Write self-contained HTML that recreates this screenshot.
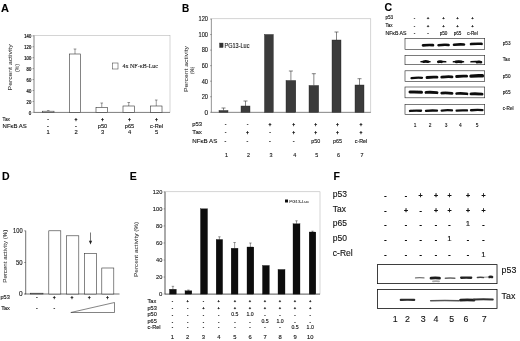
<!DOCTYPE html>
<html><head><meta charset="utf-8"><title>Figure</title>
<style>
html,body{margin:0;padding:0;background:#fff;}
body{width:520px;height:341px;overflow:hidden;}
svg{display:block;font-family:"Liberation Sans", sans-serif;}
</style></head>
<body>
<svg width="520" height="341" viewBox="0 0 520 341">
<defs><filter id="bl" x="-2%" y="-2%" width="104%" height="104%"><feGaussianBlur stdDeviation="0.35"/></filter><filter id="bb" filterUnits="userSpaceOnUse" x="370" y="30" width="150" height="300"><feGaussianBlur stdDeviation="0.45"/></filter></defs>
<rect width="520" height="341" fill="#fff"/>
<g filter="url(#bl)">
<text x="1" y="12" font-size="11" font-weight="bold" fill="#000" stroke="#000" stroke-width="0.12">A</text>
<rect x="34" y="35.7" width="136" height="76.7" fill="none" stroke="#aaa" stroke-width="0.5"/>
<line x1="34" y1="35.7" x2="34" y2="112.4" stroke="#555" stroke-width="0.55"/>
<line x1="34" y1="112.4" x2="170" y2="112.4" stroke="#444" stroke-width="0.6"/>
<line x1="32.5" y1="112.4" x2="34" y2="112.4" stroke="#333" stroke-width="0.4"/>
<text x="31.2" y="114.80000000000001" font-size="4.5" text-anchor="end" fill="#111" stroke="#111" stroke-width="0.2">0</text>
<line x1="32.5" y1="101.45714285714286" x2="34" y2="101.45714285714286" stroke="#333" stroke-width="0.4"/>
<text x="31.2" y="103.85714285714286" font-size="4.5" text-anchor="end" textLength="4.6" lengthAdjust="spacingAndGlyphs" fill="#111" stroke="#111" stroke-width="0.2">20</text>
<line x1="32.5" y1="90.51428571428572" x2="34" y2="90.51428571428572" stroke="#333" stroke-width="0.4"/>
<text x="31.2" y="92.91428571428573" font-size="4.5" text-anchor="end" textLength="4.6" lengthAdjust="spacingAndGlyphs" fill="#111" stroke="#111" stroke-width="0.2">40</text>
<line x1="32.5" y1="79.57142857142858" x2="34" y2="79.57142857142858" stroke="#333" stroke-width="0.4"/>
<text x="31.2" y="81.97142857142859" font-size="4.5" text-anchor="end" textLength="4.6" lengthAdjust="spacingAndGlyphs" fill="#111" stroke="#111" stroke-width="0.2">60</text>
<line x1="32.5" y1="68.62857142857143" x2="34" y2="68.62857142857143" stroke="#333" stroke-width="0.4"/>
<text x="31.2" y="71.02857142857144" font-size="4.5" text-anchor="end" textLength="4.6" lengthAdjust="spacingAndGlyphs" fill="#111" stroke="#111" stroke-width="0.2">80</text>
<line x1="32.5" y1="57.6857142857143" x2="34" y2="57.6857142857143" stroke="#333" stroke-width="0.4"/>
<text x="31.2" y="60.085714285714296" font-size="4.5" text-anchor="end" textLength="6.9" lengthAdjust="spacingAndGlyphs" fill="#111" stroke="#111" stroke-width="0.2">100</text>
<line x1="32.5" y1="46.74285714285715" x2="34" y2="46.74285714285715" stroke="#333" stroke-width="0.4"/>
<text x="31.2" y="49.142857142857146" font-size="4.5" text-anchor="end" textLength="6.9" lengthAdjust="spacingAndGlyphs" fill="#111" stroke="#111" stroke-width="0.2">120</text>
<line x1="32.5" y1="35.80000000000001" x2="34" y2="35.80000000000001" stroke="#333" stroke-width="0.4"/>
<text x="31.2" y="38.20000000000001" font-size="4.5" text-anchor="end" textLength="6.9" lengthAdjust="spacingAndGlyphs" fill="#111" stroke="#111" stroke-width="0.2">140</text>
<text transform="translate(12.1,67.4) rotate(-90)" font-size="6.2" text-anchor="middle" textLength="46" lengthAdjust="spacingAndGlyphs" fill="#333" stroke="#333" stroke-width="0.05">Percent activity</text>
<text transform="translate(19,68) rotate(-90)" font-size="5" text-anchor="middle" fill="#333" stroke="#333" stroke-width="0.05">(%)</text>
<line x1="48.25" y1="110.6" x2="48.25" y2="111.2" stroke="#333" stroke-width="0.5"/>
<line x1="46.95" y1="110.6" x2="49.55" y2="110.6" stroke="#333" stroke-width="0.5"/>
<rect x="42.5" y="111.2" width="11.5" height="1.2000000000000028" fill="#fff" stroke="#333" stroke-width="0.6"/>
<line x1="75.0" y1="49" x2="75.0" y2="54" stroke="#333" stroke-width="0.5"/>
<line x1="73.7" y1="49" x2="76.3" y2="49" stroke="#333" stroke-width="0.5"/>
<rect x="69.5" y="54" width="11.0" height="58.400000000000006" fill="#fff" stroke="#333" stroke-width="0.6"/>
<line x1="101.75" y1="103" x2="101.75" y2="107.5" stroke="#333" stroke-width="0.5"/>
<line x1="100.45" y1="103" x2="103.05" y2="103" stroke="#333" stroke-width="0.5"/>
<rect x="96" y="107.5" width="11.5" height="4.900000000000006" fill="#fff" stroke="#333" stroke-width="0.6"/>
<line x1="128.75" y1="102.5" x2="128.75" y2="106" stroke="#333" stroke-width="0.5"/>
<line x1="127.45" y1="102.5" x2="130.05" y2="102.5" stroke="#333" stroke-width="0.5"/>
<rect x="123" y="106" width="11.5" height="6.400000000000006" fill="#fff" stroke="#333" stroke-width="0.6"/>
<line x1="156.25" y1="100" x2="156.25" y2="106" stroke="#333" stroke-width="0.5"/>
<line x1="154.95" y1="100" x2="157.55" y2="100" stroke="#333" stroke-width="0.5"/>
<rect x="150.5" y="106" width="11.5" height="6.400000000000006" fill="#fff" stroke="#333" stroke-width="0.6"/>
<rect x="112.5" y="63" width="5.5" height="6" fill="#fff" stroke="#333" stroke-width="0.5"/>
<text x="122.5" y="68.3" font-size="6" textLength="35.5" lengthAdjust="spacingAndGlyphs" font-family='"Liberation Serif", serif' fill="#222" stroke="#222" stroke-width="0.12">4x NF-κB-Luc</text>
<text x="2.6" y="121.2" font-size="5.8" textLength="7.4" lengthAdjust="spacingAndGlyphs" fill="#111" stroke="#111" stroke-width="0.12">Tax</text>
<text x="2.6" y="127.8" font-size="5.8" textLength="24.2" lengthAdjust="spacingAndGlyphs" fill="#111" stroke="#111" stroke-width="0.12">NFκB AS</text>
<text x="48" y="120.9" font-size="5" text-anchor="middle" fill="#111" stroke="#111" stroke-width="0.3">-</text>
<text x="76" y="120.9" font-size="5" text-anchor="middle" fill="#111" stroke="#111" stroke-width="0.3">+</text>
<text x="102.5" y="120.9" font-size="5" text-anchor="middle" fill="#111" stroke="#111" stroke-width="0.3">+</text>
<text x="129.5" y="120.9" font-size="5" text-anchor="middle" fill="#111" stroke="#111" stroke-width="0.3">+</text>
<text x="156.5" y="120.9" font-size="5" text-anchor="middle" fill="#111" stroke="#111" stroke-width="0.3">+</text>
<text x="48" y="127.6" font-size="5.6" text-anchor="middle" fill="#111" stroke="#111" stroke-width="0.3">-</text>
<text x="76" y="127.6" font-size="5.6" text-anchor="middle" fill="#111" stroke="#111" stroke-width="0.3">-</text>
<text x="102.5" y="127.6" font-size="5.6" text-anchor="middle" fill="#111" stroke="#111" stroke-width="0.12">p50</text>
<text x="129.5" y="127.6" font-size="5.6" text-anchor="middle" fill="#111" stroke="#111" stroke-width="0.12">p65</text>
<text x="156.5" y="127.6" font-size="5.6" text-anchor="middle" fill="#111" stroke="#111" stroke-width="0.12">c-Rel</text>
<text x="48" y="134.4" font-size="5.8" text-anchor="middle" fill="#111" stroke="#111" stroke-width="0.12">1</text>
<text x="76" y="134.4" font-size="5.8" text-anchor="middle" fill="#111" stroke="#111" stroke-width="0.12">2</text>
<text x="102.5" y="134.4" font-size="5.8" text-anchor="middle" fill="#111" stroke="#111" stroke-width="0.12">3</text>
<text x="129.5" y="134.4" font-size="5.8" text-anchor="middle" fill="#111" stroke="#111" stroke-width="0.12">4</text>
<text x="156.5" y="134.4" font-size="5.8" text-anchor="middle" fill="#111" stroke="#111" stroke-width="0.12">5</text>
<text x="182" y="11.5" font-size="10" font-weight="bold" fill="#000" stroke="#000" stroke-width="0.12">B</text>
<rect x="211.3" y="18.8" width="159.5" height="93.5" fill="none" stroke="#aaa" stroke-width="0.5"/>
<line x1="211.3" y1="19" x2="211.3" y2="112.3" stroke="#666" stroke-width="0.55"/>
<line x1="211.3" y1="112.3" x2="370.8" y2="112.3" stroke="#555" stroke-width="0.6"/>
<line x1="210" y1="112.3" x2="211.5" y2="112.3" stroke="#333" stroke-width="0.4"/>
<text x="208" y="114.6" font-size="6.4" text-anchor="end" fill="#111" stroke="#111" stroke-width="0.12">0</text>
<line x1="210" y1="96.75" x2="211.5" y2="96.75" stroke="#333" stroke-width="0.4"/>
<text x="208" y="99.05" font-size="6.4" text-anchor="end" textLength="6.3" lengthAdjust="spacingAndGlyphs" fill="#111" stroke="#111" stroke-width="0.12">20</text>
<line x1="210" y1="81.19999999999999" x2="211.5" y2="81.19999999999999" stroke="#333" stroke-width="0.4"/>
<text x="208" y="83.49999999999999" font-size="6.4" text-anchor="end" textLength="6.3" lengthAdjust="spacingAndGlyphs" fill="#111" stroke="#111" stroke-width="0.12">40</text>
<line x1="210" y1="65.65" x2="211.5" y2="65.65" stroke="#333" stroke-width="0.4"/>
<text x="208" y="67.95" font-size="6.4" text-anchor="end" textLength="6.3" lengthAdjust="spacingAndGlyphs" fill="#111" stroke="#111" stroke-width="0.12">60</text>
<line x1="210" y1="50.099999999999994" x2="211.5" y2="50.099999999999994" stroke="#333" stroke-width="0.4"/>
<text x="208" y="52.39999999999999" font-size="6.4" text-anchor="end" textLength="6.3" lengthAdjust="spacingAndGlyphs" fill="#111" stroke="#111" stroke-width="0.12">80</text>
<line x1="210" y1="34.55" x2="211.5" y2="34.55" stroke="#333" stroke-width="0.4"/>
<text x="208" y="36.849999999999994" font-size="6.4" text-anchor="end" textLength="9.4" lengthAdjust="spacingAndGlyphs" fill="#111" stroke="#111" stroke-width="0.12">100</text>
<line x1="210" y1="19.0" x2="211.5" y2="19.0" stroke="#333" stroke-width="0.4"/>
<text x="208" y="21.3" font-size="6.4" text-anchor="end" textLength="9.4" lengthAdjust="spacingAndGlyphs" fill="#111" stroke="#111" stroke-width="0.12">120</text>
<text transform="translate(188.3,69) rotate(-90)" font-size="5.6" text-anchor="middle" textLength="46" lengthAdjust="spacingAndGlyphs" fill="#333" stroke="#333" stroke-width="0.05">Percent activity</text>
<text transform="translate(194,70.3) rotate(-90)" font-size="4.8" text-anchor="middle" fill="#333" stroke="#333" stroke-width="0.05">(%)</text>
<line x1="223.5" y1="108" x2="223.5" y2="110.5" stroke="#333" stroke-width="0.6"/>
<line x1="221.5" y1="108" x2="225.5" y2="108" stroke="#333" stroke-width="0.6"/>
<rect x="219" y="110.5" width="9" height="1.7999999999999972" fill="#3a3a3a" stroke="#222" stroke-width="0.4"/>
<line x1="245.5" y1="101" x2="245.5" y2="106" stroke="#333" stroke-width="0.6"/>
<line x1="243.5" y1="101" x2="247.5" y2="101" stroke="#333" stroke-width="0.6"/>
<rect x="241" y="106" width="9" height="6.299999999999997" fill="#3a3a3a" stroke="#222" stroke-width="0.4"/>
<rect x="264.5" y="34.5" width="8.800000000000011" height="77.8" fill="#3a3a3a" stroke="#222" stroke-width="0.4"/>
<line x1="290.9" y1="71" x2="290.9" y2="80.5" stroke="#333" stroke-width="0.6"/>
<line x1="288.9" y1="71" x2="292.9" y2="71" stroke="#333" stroke-width="0.6"/>
<rect x="286" y="80.5" width="9.800000000000011" height="31.799999999999997" fill="#3a3a3a" stroke="#222" stroke-width="0.4"/>
<line x1="313.85" y1="73.7" x2="313.85" y2="85.5" stroke="#333" stroke-width="0.6"/>
<line x1="311.85" y1="73.7" x2="315.85" y2="73.7" stroke="#333" stroke-width="0.6"/>
<rect x="309" y="85.5" width="9.699999999999989" height="26.799999999999997" fill="#3a3a3a" stroke="#222" stroke-width="0.4"/>
<line x1="336.5" y1="32" x2="336.5" y2="40" stroke="#333" stroke-width="0.6"/>
<line x1="334.5" y1="32" x2="338.5" y2="32" stroke="#333" stroke-width="0.6"/>
<rect x="332" y="40" width="9" height="72.3" fill="#3a3a3a" stroke="#222" stroke-width="0.4"/>
<line x1="359.5" y1="78.7" x2="359.5" y2="85" stroke="#333" stroke-width="0.6"/>
<line x1="357.5" y1="78.7" x2="361.5" y2="78.7" stroke="#333" stroke-width="0.6"/>
<rect x="355" y="85" width="9" height="27.299999999999997" fill="#3a3a3a" stroke="#222" stroke-width="0.4"/>
<rect x="219.5" y="43" width="3.6" height="4.6" fill="#333" stroke="#222" stroke-width="0.3"/>
<text x="224.6" y="47.9" font-size="6.8" textLength="24.8" lengthAdjust="spacingAndGlyphs" fill="#111" stroke="#111" stroke-width="0.12">PG13-Luc</text>
<text x="192.3" y="125.8" font-size="5.7" textLength="9.8" lengthAdjust="spacingAndGlyphs" fill="#111" stroke="#111" stroke-width="0.12">p53</text>
<text x="192.3" y="134.3" font-size="5.7" textLength="9.6" lengthAdjust="spacingAndGlyphs" fill="#111" stroke="#111" stroke-width="0.12">Tax</text>
<text x="192.3" y="142.8" font-size="5.7" textLength="25" lengthAdjust="spacingAndGlyphs" fill="#111" stroke="#111" stroke-width="0.12">NFκB AS</text>
<text x="225.5" y="125.5" font-size="5" text-anchor="middle" fill="#111" stroke="#111" stroke-width="0.3">-</text>
<text x="247.5" y="125.5" font-size="5" text-anchor="middle" fill="#111" stroke="#111" stroke-width="0.3">-</text>
<text x="270" y="125.5" font-size="5" text-anchor="middle" fill="#111" stroke="#111" stroke-width="0.3">+</text>
<text x="293.7" y="125.5" font-size="5" text-anchor="middle" fill="#111" stroke="#111" stroke-width="0.3">+</text>
<text x="315.7" y="125.5" font-size="5" text-anchor="middle" fill="#111" stroke="#111" stroke-width="0.3">+</text>
<text x="337.5" y="125.5" font-size="5" text-anchor="middle" fill="#111" stroke="#111" stroke-width="0.3">+</text>
<text x="361" y="125.5" font-size="5" text-anchor="middle" fill="#111" stroke="#111" stroke-width="0.3">+</text>
<text x="225.5" y="134" font-size="5" text-anchor="middle" fill="#111" stroke="#111" stroke-width="0.3">-</text>
<text x="247.5" y="134" font-size="5" text-anchor="middle" fill="#111" stroke="#111" stroke-width="0.3">+</text>
<text x="270" y="134" font-size="5" text-anchor="middle" fill="#111" stroke="#111" stroke-width="0.3">-</text>
<text x="293.7" y="134" font-size="5" text-anchor="middle" fill="#111" stroke="#111" stroke-width="0.3">+</text>
<text x="315.7" y="134" font-size="5" text-anchor="middle" fill="#111" stroke="#111" stroke-width="0.3">+</text>
<text x="337.5" y="134" font-size="5" text-anchor="middle" fill="#111" stroke="#111" stroke-width="0.3">+</text>
<text x="361" y="134" font-size="5" text-anchor="middle" fill="#111" stroke="#111" stroke-width="0.3">+</text>
<text x="225.5" y="142.6" font-size="5.4" text-anchor="middle" fill="#111" stroke="#111" stroke-width="0.3">-</text>
<text x="247.5" y="142.6" font-size="5.4" text-anchor="middle" fill="#111" stroke="#111" stroke-width="0.3">-</text>
<text x="270" y="142.6" font-size="5.4" text-anchor="middle" fill="#111" stroke="#111" stroke-width="0.3">-</text>
<text x="293.7" y="142.6" font-size="5.4" text-anchor="middle" fill="#111" stroke="#111" stroke-width="0.3">-</text>
<text x="315.7" y="142.6" font-size="5.4" text-anchor="middle" fill="#111" stroke="#111" stroke-width="0.12">p50</text>
<text x="337.5" y="142.6" font-size="5.4" text-anchor="middle" fill="#111" stroke="#111" stroke-width="0.12">p65</text>
<text x="361" y="142.6" font-size="5.4" text-anchor="middle" fill="#111" stroke="#111" stroke-width="0.12">c-Rel</text>
<text x="226.5" y="157" font-size="5.4" text-anchor="middle" fill="#111" stroke="#111" stroke-width="0.12">1</text>
<text x="248.5" y="157" font-size="5.4" text-anchor="middle" fill="#111" stroke="#111" stroke-width="0.12">2</text>
<text x="271" y="157" font-size="5.4" text-anchor="middle" fill="#111" stroke="#111" stroke-width="0.12">3</text>
<text x="294.7" y="157" font-size="5.4" text-anchor="middle" fill="#111" stroke="#111" stroke-width="0.12">4</text>
<text x="316.7" y="157" font-size="5.4" text-anchor="middle" fill="#111" stroke="#111" stroke-width="0.12">5</text>
<text x="338.5" y="157" font-size="5.4" text-anchor="middle" fill="#111" stroke="#111" stroke-width="0.12">6</text>
<text x="362" y="157" font-size="5.4" text-anchor="middle" fill="#111" stroke="#111" stroke-width="0.12">7</text>
<text x="384.5" y="10.8" font-size="10.5" font-weight="bold" fill="#000" stroke="#000" stroke-width="0.12">C</text>
<text x="385.4" y="19" font-size="4.6" fill="#111" stroke="#111" stroke-width="0.12">p53</text>
<text x="385.4" y="26.6" font-size="4.6" fill="#111" stroke="#111" stroke-width="0.12">Tax</text>
<text x="385.4" y="35.2" font-size="4.6" textLength="21" lengthAdjust="spacingAndGlyphs" fill="#111" stroke="#111" stroke-width="0.12">NFκB AS</text>
<text x="414.5" y="19" font-size="4.4" text-anchor="middle" fill="#111" stroke="#111" stroke-width="0.3">-</text>
<text x="428" y="19" font-size="4.4" text-anchor="middle" fill="#111" stroke="#111" stroke-width="0.3">+</text>
<text x="443.5" y="19" font-size="4.4" text-anchor="middle" fill="#111" stroke="#111" stroke-width="0.3">+</text>
<text x="457.5" y="19" font-size="4.4" text-anchor="middle" fill="#111" stroke="#111" stroke-width="0.3">+</text>
<text x="472.5" y="19" font-size="4.4" text-anchor="middle" fill="#111" stroke="#111" stroke-width="0.3">+</text>
<text x="414.5" y="26.6" font-size="4.4" text-anchor="middle" fill="#111" stroke="#111" stroke-width="0.3">-</text>
<text x="428" y="26.6" font-size="4.4" text-anchor="middle" fill="#111" stroke="#111" stroke-width="0.3">+</text>
<text x="443.5" y="26.6" font-size="4.4" text-anchor="middle" fill="#111" stroke="#111" stroke-width="0.3">+</text>
<text x="457.5" y="26.6" font-size="4.4" text-anchor="middle" fill="#111" stroke="#111" stroke-width="0.3">+</text>
<text x="472.5" y="26.6" font-size="4.4" text-anchor="middle" fill="#111" stroke="#111" stroke-width="0.3">+</text>
<text x="414.5" y="35.2" font-size="4.6" text-anchor="middle" fill="#111" stroke="#111" stroke-width="0.3">-</text>
<text x="428" y="35.2" font-size="4.6" text-anchor="middle" fill="#111" stroke="#111" stroke-width="0.3">-</text>
<text x="443.5" y="35.2" font-size="4.6" text-anchor="middle" fill="#111" stroke="#111" stroke-width="0.12">p50</text>
<text x="457.5" y="35.2" font-size="4.6" text-anchor="middle" fill="#111" stroke="#111" stroke-width="0.12">p65</text>
<text x="472.5" y="35.2" font-size="4.6" text-anchor="middle" fill="#111" stroke="#111" stroke-width="0.12">c-Rel</text>
<rect x="405" y="38.6" width="79.7" height="10.799999999999997" fill="#fff" stroke="#222" stroke-width="0.6"/>
<rect x="405" y="55.3" width="79.7" height="9.400000000000006" fill="#fff" stroke="#222" stroke-width="0.6"/>
<rect x="405" y="70.8" width="79.7" height="10.799999999999997" fill="#fff" stroke="#222" stroke-width="0.6"/>
<rect x="405" y="87" width="79.7" height="10.799999999999997" fill="#fff" stroke="#222" stroke-width="0.6"/>
<rect x="405" y="104.3" width="79.7" height="10.200000000000003" fill="#fff" stroke="#222" stroke-width="0.6"/>
<path d="M423,45.375 Q428.0,44.800000000000004 433,45.125" stroke="#111" stroke-width="2.6" stroke-linecap="round" fill="none" filter="url(#bb)"/>
<path d="M438.5,45.175 Q443.55,44.6 448.6,44.925" stroke="#111" stroke-width="2.6" stroke-linecap="round" fill="none" filter="url(#bb)"/>
<path d="M454,44.775 Q459.0,44.2 464,44.525" stroke="#111" stroke-width="2.6" stroke-linecap="round" fill="none" filter="url(#bb)"/>
<path d="M471,44.074999999999996 Q476.3,43.5 481.6,43.824999999999996" stroke="#111" stroke-width="2.6" stroke-linecap="round" fill="none" filter="url(#bb)"/>
<path d="M421,61.65 Q425.5,61.2 430,61.65" stroke="#111" stroke-width="1.5" stroke-linecap="round" fill="none" filter="url(#bb)"/>
<path d="M437.7,61.85 Q441.7,61.400000000000006 445.7,61.85" stroke="#111" stroke-width="1.5" stroke-linecap="round" fill="none" filter="url(#bb)"/>
<path d="M453.4,61.85 Q458.45,61.400000000000006 463.5,61.85" stroke="#111" stroke-width="1.5" stroke-linecap="round" fill="none" filter="url(#bb)"/>
<path d="M471,61.85 Q476.0,61.400000000000006 481,61.85" stroke="#111" stroke-width="1.5" stroke-linecap="round" fill="none" filter="url(#bb)"/>
<path d="M423.5,61.65 Q425.75,61.2 428,61.65" stroke="#111" stroke-width="2.6" stroke-linecap="round" fill="none" filter="url(#bb)"/>
<path d="M438.5,61.85 Q440.0,61.400000000000006 441.5,61.85" stroke="#111" stroke-width="2.6" stroke-linecap="round" fill="none" filter="url(#bb)"/>
<path d="M456,61.85 Q458.75,61.400000000000006 461.5,61.85" stroke="#111" stroke-width="2.6" stroke-linecap="round" fill="none" filter="url(#bb)"/>
<path d="M477,62.15 Q479.0,61.7 481,62.15" stroke="#111" stroke-width="2.6" stroke-linecap="round" fill="none" filter="url(#bb)"/>
<path d="M411.5,78.10000000000001 Q416.75,77.5 422,77.8" stroke="#111" stroke-width="2.3" stroke-linecap="round" fill="none" filter="url(#bb)"/>
<path d="M427,77.50000000000001 Q432.0,76.9 437,77.2" stroke="#111" stroke-width="2.8" stroke-linecap="round" fill="none" filter="url(#bb)"/>
<path d="M441.7,77.10000000000001 Q446.85,76.5 452,76.8" stroke="#111" stroke-width="2.8" stroke-linecap="round" fill="none" filter="url(#bb)"/>
<path d="M456.6,76.50000000000001 Q461.65,75.9 466.7,76.2" stroke="#111" stroke-width="2.8" stroke-linecap="round" fill="none" filter="url(#bb)"/>
<path d="M471,76.10000000000001 Q476.7,75.5 482.4,75.8" stroke="#111" stroke-width="3.4" stroke-linecap="round" fill="none" filter="url(#bb)"/>
<path d="M410,92.025 Q415.75,91.7 421.5,92.275" stroke="#111" stroke-width="3.0" stroke-linecap="round" fill="none" filter="url(#bb)"/>
<path d="M426,92.42500000000001 Q431.5,92.10000000000001 437,92.67500000000001" stroke="#111" stroke-width="2.9" stroke-linecap="round" fill="none" filter="url(#bb)"/>
<path d="M441.7,93.025 Q446.85,92.7 452,93.275" stroke="#111" stroke-width="2.8" stroke-linecap="round" fill="none" filter="url(#bb)"/>
<path d="M456.6,93.525 Q461.8,93.2 467,93.775" stroke="#111" stroke-width="2.7" stroke-linecap="round" fill="none" filter="url(#bb)"/>
<path d="M471,93.825 Q476.5,93.5 482,94.075" stroke="#111" stroke-width="2.9" stroke-linecap="round" fill="none" filter="url(#bb)"/>
<path d="M410,110.92500000000001 Q415.5,110.4 421,110.775" stroke="#111" stroke-width="2.4" stroke-linecap="round" fill="none" filter="url(#bb)"/>
<path d="M426,110.825 Q431.5,110.3 437,110.675" stroke="#111" stroke-width="2.3" stroke-linecap="round" fill="none" filter="url(#bb)"/>
<path d="M441.7,110.525 Q446.85,110.0 452,110.375" stroke="#111" stroke-width="2.3" stroke-linecap="round" fill="none" filter="url(#bb)"/>
<path d="M456.6,110.62500000000001 Q461.8,110.10000000000001 467,110.47500000000001" stroke="#111" stroke-width="2.3" stroke-linecap="round" fill="none" filter="url(#bb)"/>
<path d="M471,110.22500000000001 Q476.7,109.7 482.4,110.075" stroke="#111" stroke-width="2.4" stroke-linecap="round" fill="none" filter="url(#bb)"/>
<text x="502.8" y="44.7" font-size="4.6" fill="#111" stroke="#111" stroke-width="0.12">p53</text>
<text x="502.8" y="61" font-size="4.6" fill="#111" stroke="#111" stroke-width="0.12">Tax</text>
<text x="502.8" y="77.6" font-size="4.6" fill="#111" stroke="#111" stroke-width="0.12">p50</text>
<text x="502.8" y="93.8" font-size="4.6" fill="#111" stroke="#111" stroke-width="0.12">p65</text>
<text x="502.8" y="110.3" font-size="4.6" fill="#111" stroke="#111" stroke-width="0.12">c-Rel</text>
<text x="415" y="127" font-size="4.8" text-anchor="middle" fill="#111" stroke="#111" stroke-width="0.12">1</text>
<text x="430" y="127" font-size="4.8" text-anchor="middle" fill="#111" stroke="#111" stroke-width="0.12">2</text>
<text x="446" y="127" font-size="4.8" text-anchor="middle" fill="#111" stroke="#111" stroke-width="0.12">3</text>
<text x="460.4" y="127" font-size="4.8" text-anchor="middle" fill="#111" stroke="#111" stroke-width="0.12">4</text>
<text x="477" y="127" font-size="4.8" text-anchor="middle" fill="#111" stroke="#111" stroke-width="0.12">5</text>
<text x="2" y="180.2" font-size="10.5" font-weight="bold" fill="#000" stroke="#000" stroke-width="0.12">D</text>
<line x1="25.7" y1="230.7" x2="25.7" y2="294" stroke="#333" stroke-width="0.7"/>
<line x1="24.5" y1="294" x2="119.5" y2="294" stroke="#333" stroke-width="0.7"/>
<line x1="24.2" y1="230.8" x2="25.7" y2="230.8" stroke="#333" stroke-width="0.5"/>
<text x="22.6" y="233.10000000000002" font-size="6.5" text-anchor="end" textLength="9.5" lengthAdjust="spacingAndGlyphs" fill="#111" stroke="#111" stroke-width="0.12">100</text>
<line x1="24.2" y1="262.5" x2="25.7" y2="262.5" stroke="#333" stroke-width="0.5"/>
<text x="22.6" y="264.8" font-size="6.5" text-anchor="end" textLength="6.6" lengthAdjust="spacingAndGlyphs" fill="#111" stroke="#111" stroke-width="0.12">50</text>
<line x1="24.2" y1="294" x2="25.7" y2="294" stroke="#333" stroke-width="0.5"/>
<text x="22.6" y="296.3" font-size="6.5" text-anchor="end" fill="#111" stroke="#111" stroke-width="0.12">0</text>
<text transform="translate(6.6,256.2) rotate(-90)" font-size="5.6" text-anchor="middle" textLength="53" lengthAdjust="spacingAndGlyphs" fill="#333" stroke="#333" stroke-width="0.05">Percent activity (%)</text>
<rect x="30.5" y="293.2" width="12.5" height="0.8000000000000114" fill="#fff" stroke="#333" stroke-width="0.6"/>
<rect x="48.8" y="230.8" width="12.0" height="63.19999999999999" fill="#fff" stroke="#333" stroke-width="0.6"/>
<rect x="66.3" y="235.8" width="12.5" height="58.19999999999999" fill="#fff" stroke="#333" stroke-width="0.6"/>
<rect x="84.3" y="253.5" width="12.0" height="40.5" fill="#fff" stroke="#333" stroke-width="0.6"/>
<rect x="101.8" y="268" width="12.0" height="26" fill="#fff" stroke="#333" stroke-width="0.6"/>
<line x1="90.5" y1="232.5" x2="90.5" y2="242" stroke="#222" stroke-width="0.6"/>
<path d="M88.9,240.8 L92.1,240.8 L90.5,244.6 Z" fill="#222"/>
<text x="0.5" y="299.3" font-size="5.6" fill="#111" stroke="#111" stroke-width="0.12">p53</text>
<text x="1.2" y="310.2" font-size="5.6" fill="#111" stroke="#111" stroke-width="0.12">Tax</text>
<text x="36.8" y="299" font-size="5" text-anchor="middle" fill="#111" stroke="#111" stroke-width="0.3">-</text>
<text x="54.3" y="299" font-size="5" text-anchor="middle" fill="#111" stroke="#111" stroke-width="0.3">+</text>
<text x="72" y="299" font-size="5" text-anchor="middle" fill="#111" stroke="#111" stroke-width="0.3">+</text>
<text x="89.3" y="299" font-size="5" text-anchor="middle" fill="#111" stroke="#111" stroke-width="0.3">+</text>
<text x="107.5" y="299" font-size="5" text-anchor="middle" fill="#111" stroke="#111" stroke-width="0.3">+</text>
<text x="36.8" y="309.8" font-size="5" text-anchor="middle" fill="#111" stroke="#111" stroke-width="0.3">-</text>
<text x="54.3" y="309.8" font-size="5" text-anchor="middle" fill="#111" stroke="#111" stroke-width="0.3">-</text>
<path d="M70.8,312.5 L114.5,302.5 L114.5,312.5 Z" fill="#fff" stroke="#333" stroke-width="0.6"/>
<text x="129.8" y="180.2" font-size="10.5" font-weight="bold" fill="#000" stroke="#000" stroke-width="0.12">E</text>
<rect x="165" y="191.8" width="155" height="102.3" fill="none" stroke="#aaa" stroke-width="0.5"/>
<line x1="165" y1="191.8" x2="165" y2="294.1" stroke="#333" stroke-width="0.7"/>
<line x1="165" y1="294.1" x2="320" y2="294.1" stroke="#333" stroke-width="0.7"/>
<line x1="163.6" y1="294.1" x2="165" y2="294.1" stroke="#333" stroke-width="0.4"/>
<text x="162.3" y="296.20000000000005" font-size="6" text-anchor="end" fill="#111" stroke="#111" stroke-width="0.12">0</text>
<line x1="163.6" y1="277.05" x2="165" y2="277.05" stroke="#333" stroke-width="0.4"/>
<text x="162.3" y="279.15000000000003" font-size="6" text-anchor="end" textLength="6.3" lengthAdjust="spacingAndGlyphs" fill="#111" stroke="#111" stroke-width="0.12">20</text>
<line x1="163.6" y1="260.0" x2="165" y2="260.0" stroke="#333" stroke-width="0.4"/>
<text x="162.3" y="262.1" font-size="6" text-anchor="end" textLength="6.3" lengthAdjust="spacingAndGlyphs" fill="#111" stroke="#111" stroke-width="0.12">40</text>
<line x1="163.6" y1="242.95000000000002" x2="165" y2="242.95000000000002" stroke="#333" stroke-width="0.4"/>
<text x="162.3" y="245.05" font-size="6" text-anchor="end" textLength="6.3" lengthAdjust="spacingAndGlyphs" fill="#111" stroke="#111" stroke-width="0.12">60</text>
<line x1="163.6" y1="225.90000000000003" x2="165" y2="225.90000000000003" stroke="#333" stroke-width="0.4"/>
<text x="162.3" y="228.00000000000003" font-size="6" text-anchor="end" textLength="6.3" lengthAdjust="spacingAndGlyphs" fill="#111" stroke="#111" stroke-width="0.12">80</text>
<line x1="163.6" y1="208.85000000000002" x2="165" y2="208.85000000000002" stroke="#333" stroke-width="0.4"/>
<text x="162.3" y="210.95000000000002" font-size="6" text-anchor="end" textLength="9.5" lengthAdjust="spacingAndGlyphs" fill="#111" stroke="#111" stroke-width="0.12">100</text>
<line x1="163.6" y1="191.8" x2="165" y2="191.8" stroke="#333" stroke-width="0.4"/>
<text x="162.3" y="193.9" font-size="6" text-anchor="end" textLength="9.5" lengthAdjust="spacingAndGlyphs" fill="#111" stroke="#111" stroke-width="0.12">120</text>
<text transform="translate(137.6,249.4) rotate(-90)" font-size="5.8" text-anchor="middle" textLength="55" lengthAdjust="spacingAndGlyphs" fill="#333" stroke="#333" stroke-width="0.05">Percent activity (%)</text>
<line x1="172.9" y1="286.3" x2="172.9" y2="289.3" stroke="#333" stroke-width="0.5"/>
<line x1="171.70000000000002" y1="286.3" x2="174.1" y2="286.3" stroke="#333" stroke-width="0.5"/>
<rect x="169.5" y="289.3" width="6.800000000000011" height="4.800000000000011" fill="#0a0a0a" stroke="#000" stroke-width="0.3"/>
<line x1="188.4" y1="290" x2="188.4" y2="290.8" stroke="#333" stroke-width="0.5"/>
<line x1="187.20000000000002" y1="290" x2="189.6" y2="290" stroke="#333" stroke-width="0.5"/>
<rect x="185" y="290.8" width="6.800000000000011" height="3.3000000000000114" fill="#0a0a0a" stroke="#000" stroke-width="0.3"/>
<rect x="200.5" y="208.8" width="7.0" height="85.30000000000001" fill="#0a0a0a" stroke="#000" stroke-width="0.3"/>
<line x1="219.39999999999998" y1="236.8" x2="219.39999999999998" y2="239.5" stroke="#333" stroke-width="0.5"/>
<line x1="218.2" y1="236.8" x2="220.59999999999997" y2="236.8" stroke="#333" stroke-width="0.5"/>
<rect x="216.2" y="239.5" width="6.400000000000006" height="54.60000000000002" fill="#0a0a0a" stroke="#000" stroke-width="0.3"/>
<line x1="234.6" y1="242.5" x2="234.6" y2="248.3" stroke="#333" stroke-width="0.5"/>
<line x1="233.4" y1="242.5" x2="235.79999999999998" y2="242.5" stroke="#333" stroke-width="0.5"/>
<rect x="231.2" y="248.3" width="6.800000000000011" height="45.80000000000001" fill="#0a0a0a" stroke="#000" stroke-width="0.3"/>
<line x1="250.4" y1="243" x2="250.4" y2="247" stroke="#333" stroke-width="0.5"/>
<line x1="249.20000000000002" y1="243" x2="251.6" y2="243" stroke="#333" stroke-width="0.5"/>
<rect x="247" y="247" width="6.800000000000011" height="47.10000000000002" fill="#0a0a0a" stroke="#000" stroke-width="0.3"/>
<rect x="262.5" y="265.5" width="6.800000000000011" height="28.600000000000023" fill="#0a0a0a" stroke="#000" stroke-width="0.3"/>
<rect x="278" y="269.5" width="7" height="24.600000000000023" fill="#0a0a0a" stroke="#000" stroke-width="0.3"/>
<line x1="296.5" y1="220.8" x2="296.5" y2="223.8" stroke="#333" stroke-width="0.5"/>
<line x1="295.3" y1="220.8" x2="297.7" y2="220.8" stroke="#333" stroke-width="0.5"/>
<rect x="293" y="223.8" width="7" height="70.30000000000001" fill="#0a0a0a" stroke="#000" stroke-width="0.3"/>
<line x1="312.5" y1="231.2" x2="312.5" y2="232" stroke="#333" stroke-width="0.5"/>
<line x1="311.3" y1="231.2" x2="313.7" y2="231.2" stroke="#333" stroke-width="0.5"/>
<rect x="309.2" y="232" width="6.600000000000023" height="62.10000000000002" fill="#0a0a0a" stroke="#000" stroke-width="0.3"/>
<rect x="285" y="199.5" width="3" height="3" fill="#111" stroke="none" stroke-width="0"/>
<text x="289.3" y="202.6" font-size="4.3" textLength="19.5" lengthAdjust="spacingAndGlyphs" fill="#444" stroke="#444" stroke-width="0.12">PG13-Luc</text>
<text x="147.5" y="302.9" font-size="5.6" fill="#111" stroke="#111" stroke-width="0.12">Tax</text>
<text x="147.5" y="309.8" font-size="5.6" fill="#111" stroke="#111" stroke-width="0.12">p53</text>
<text x="147.5" y="316.2" font-size="5.6" fill="#111" stroke="#111" stroke-width="0.12">p50</text>
<text x="147.5" y="323.1" font-size="5.6" fill="#111" stroke="#111" stroke-width="0.12">p65</text>
<text x="147.5" y="328.9" font-size="5.6" fill="#111" stroke="#111" stroke-width="0.12">c-Rel</text>
<text x="172.4" y="302.4" font-size="4.1" text-anchor="middle" fill="#111" stroke="#111" stroke-width="0.3">-</text>
<text x="187.7" y="302.4" font-size="4.1" text-anchor="middle" fill="#111" stroke="#111" stroke-width="0.3">+</text>
<text x="203.4" y="302.4" font-size="4.1" text-anchor="middle" fill="#111" stroke="#111" stroke-width="0.3">-</text>
<text x="218.8" y="302.4" font-size="4.1" text-anchor="middle" fill="#111" stroke="#111" stroke-width="0.3">+</text>
<text x="234.9" y="302.4" font-size="4.1" text-anchor="middle" fill="#111" stroke="#111" stroke-width="0.3">+</text>
<text x="250" y="302.4" font-size="4.1" text-anchor="middle" fill="#111" stroke="#111" stroke-width="0.3">+</text>
<text x="265" y="302.4" font-size="4.1" text-anchor="middle" fill="#111" stroke="#111" stroke-width="0.3">+</text>
<text x="280" y="302.4" font-size="4.1" text-anchor="middle" fill="#111" stroke="#111" stroke-width="0.3">+</text>
<text x="295" y="302.4" font-size="4.1" text-anchor="middle" fill="#111" stroke="#111" stroke-width="0.3">+</text>
<text x="310.2" y="302.4" font-size="4.1" text-anchor="middle" fill="#111" stroke="#111" stroke-width="0.3">+</text>
<text x="172.4" y="309.3" font-size="4.1" text-anchor="middle" fill="#111" stroke="#111" stroke-width="0.3">-</text>
<text x="187.7" y="309.3" font-size="4.1" text-anchor="middle" fill="#111" stroke="#111" stroke-width="0.3">-</text>
<text x="203.4" y="309.3" font-size="4.1" text-anchor="middle" fill="#111" stroke="#111" stroke-width="0.3">+</text>
<text x="218.8" y="309.3" font-size="4.1" text-anchor="middle" fill="#111" stroke="#111" stroke-width="0.3">+</text>
<text x="234.9" y="309.3" font-size="4.1" text-anchor="middle" fill="#111" stroke="#111" stroke-width="0.3">+</text>
<text x="250" y="309.3" font-size="4.1" text-anchor="middle" fill="#111" stroke="#111" stroke-width="0.3">+</text>
<text x="265" y="309.3" font-size="4.1" text-anchor="middle" fill="#111" stroke="#111" stroke-width="0.3">+</text>
<text x="280" y="309.3" font-size="4.1" text-anchor="middle" fill="#111" stroke="#111" stroke-width="0.3">+</text>
<text x="295" y="309.3" font-size="4.1" text-anchor="middle" fill="#111" stroke="#111" stroke-width="0.3">+</text>
<text x="310.2" y="309.3" font-size="4.1" text-anchor="middle" fill="#111" stroke="#111" stroke-width="0.3">+</text>
<text x="172.4" y="315.7" font-size="4.1" text-anchor="middle" fill="#111" stroke="#111" stroke-width="0.3">-</text>
<text x="187.7" y="315.7" font-size="4.1" text-anchor="middle" fill="#111" stroke="#111" stroke-width="0.3">-</text>
<text x="203.4" y="315.7" font-size="4.1" text-anchor="middle" fill="#111" stroke="#111" stroke-width="0.3">-</text>
<text x="218.8" y="315.7" font-size="4.1" text-anchor="middle" fill="#111" stroke="#111" stroke-width="0.3">-</text>
<text x="234.9" y="316.2" font-size="5.2" text-anchor="middle" fill="#111" stroke="#111" stroke-width="0.12">0.5</text>
<text x="250" y="316.2" font-size="5.2" text-anchor="middle" fill="#111" stroke="#111" stroke-width="0.12">1.0</text>
<text x="265" y="315.7" font-size="4.1" text-anchor="middle" fill="#111" stroke="#111" stroke-width="0.3">-</text>
<text x="280" y="315.7" font-size="4.1" text-anchor="middle" fill="#111" stroke="#111" stroke-width="0.3">-</text>
<text x="295" y="315.7" font-size="4.1" text-anchor="middle" fill="#111" stroke="#111" stroke-width="0.3">-</text>
<text x="310.2" y="315.7" font-size="4.1" text-anchor="middle" fill="#111" stroke="#111" stroke-width="0.3">-</text>
<text x="172.4" y="322.6" font-size="4.1" text-anchor="middle" fill="#111" stroke="#111" stroke-width="0.3">-</text>
<text x="187.7" y="322.6" font-size="4.1" text-anchor="middle" fill="#111" stroke="#111" stroke-width="0.3">-</text>
<text x="203.4" y="322.6" font-size="4.1" text-anchor="middle" fill="#111" stroke="#111" stroke-width="0.3">-</text>
<text x="218.8" y="322.6" font-size="4.1" text-anchor="middle" fill="#111" stroke="#111" stroke-width="0.3">-</text>
<text x="234.9" y="322.6" font-size="4.1" text-anchor="middle" fill="#111" stroke="#111" stroke-width="0.3">-</text>
<text x="250" y="322.6" font-size="4.1" text-anchor="middle" fill="#111" stroke="#111" stroke-width="0.3">-</text>
<text x="265" y="323.1" font-size="5.2" text-anchor="middle" fill="#111" stroke="#111" stroke-width="0.12">0.5</text>
<text x="280" y="323.1" font-size="5.2" text-anchor="middle" fill="#111" stroke="#111" stroke-width="0.12">1.0</text>
<text x="295" y="322.6" font-size="4.1" text-anchor="middle" fill="#111" stroke="#111" stroke-width="0.3">-</text>
<text x="310.2" y="322.6" font-size="4.1" text-anchor="middle" fill="#111" stroke="#111" stroke-width="0.3">-</text>
<text x="172.4" y="328.4" font-size="4.1" text-anchor="middle" fill="#111" stroke="#111" stroke-width="0.3">-</text>
<text x="187.7" y="328.4" font-size="4.1" text-anchor="middle" fill="#111" stroke="#111" stroke-width="0.3">-</text>
<text x="203.4" y="328.4" font-size="4.1" text-anchor="middle" fill="#111" stroke="#111" stroke-width="0.3">-</text>
<text x="218.8" y="328.4" font-size="4.1" text-anchor="middle" fill="#111" stroke="#111" stroke-width="0.3">-</text>
<text x="234.9" y="328.4" font-size="4.1" text-anchor="middle" fill="#111" stroke="#111" stroke-width="0.3">-</text>
<text x="250" y="328.4" font-size="4.1" text-anchor="middle" fill="#111" stroke="#111" stroke-width="0.3">-</text>
<text x="265" y="328.4" font-size="4.1" text-anchor="middle" fill="#111" stroke="#111" stroke-width="0.3">-</text>
<text x="280" y="328.4" font-size="4.1" text-anchor="middle" fill="#111" stroke="#111" stroke-width="0.3">-</text>
<text x="295" y="328.9" font-size="5.2" text-anchor="middle" fill="#111" stroke="#111" stroke-width="0.12">0.5</text>
<text x="310.2" y="328.9" font-size="5.2" text-anchor="middle" fill="#111" stroke="#111" stroke-width="0.12">1.0</text>
<text x="172.4" y="338.5" font-size="5.8" text-anchor="middle" fill="#111" stroke="#111" stroke-width="0.12">1</text>
<text x="187.7" y="338.5" font-size="5.8" text-anchor="middle" fill="#111" stroke="#111" stroke-width="0.12">2</text>
<text x="203.4" y="338.5" font-size="5.8" text-anchor="middle" fill="#111" stroke="#111" stroke-width="0.12">3</text>
<text x="218.8" y="338.5" font-size="5.8" text-anchor="middle" fill="#111" stroke="#111" stroke-width="0.12">4</text>
<text x="234.9" y="338.5" font-size="5.8" text-anchor="middle" fill="#111" stroke="#111" stroke-width="0.12">5</text>
<text x="250" y="338.5" font-size="5.8" text-anchor="middle" fill="#111" stroke="#111" stroke-width="0.12">6</text>
<text x="265" y="338.5" font-size="5.8" text-anchor="middle" fill="#111" stroke="#111" stroke-width="0.12">7</text>
<text x="280" y="338.5" font-size="5.8" text-anchor="middle" fill="#111" stroke="#111" stroke-width="0.12">8</text>
<text x="295" y="338.5" font-size="5.8" text-anchor="middle" fill="#111" stroke="#111" stroke-width="0.12">9</text>
<text x="310.2" y="338.5" font-size="5.8" text-anchor="middle" fill="#111" stroke="#111" stroke-width="0.12">10</text>
<text x="333.5" y="180.2" font-size="10.5" font-weight="bold" fill="#000" stroke="#000" stroke-width="0.12">F</text>
<text x="332.8" y="196.7" font-size="8.5" fill="#111" stroke="#111" stroke-width="0.12">p53</text>
<text x="332.8" y="211.5" font-size="8.5" fill="#111" stroke="#111" stroke-width="0.12">Tax</text>
<text x="332.8" y="226.1" font-size="8.5" fill="#111" stroke="#111" stroke-width="0.12">p65</text>
<text x="332.8" y="241" font-size="8.5" fill="#111" stroke="#111" stroke-width="0.12">p50</text>
<text x="332.8" y="256.2" font-size="8.5" fill="#111" stroke="#111" stroke-width="0.12">c-Rel</text>
<text x="385.5" y="197.89999999999998" font-size="7" text-anchor="middle" fill="#111" stroke="#111" stroke-width="0.35">-</text>
<text x="406" y="197.89999999999998" font-size="7" text-anchor="middle" fill="#111" stroke="#111" stroke-width="0.35">-</text>
<text x="420.6" y="197.89999999999998" font-size="7" text-anchor="middle" fill="#111" stroke="#111" stroke-width="0.35">+</text>
<text x="436" y="197.89999999999998" font-size="7" text-anchor="middle" fill="#111" stroke="#111" stroke-width="0.35">+</text>
<text x="449.5" y="197.89999999999998" font-size="7" text-anchor="middle" fill="#111" stroke="#111" stroke-width="0.35">+</text>
<text x="468" y="197.89999999999998" font-size="7" text-anchor="middle" fill="#111" stroke="#111" stroke-width="0.35">+</text>
<text x="483.5" y="197.89999999999998" font-size="7" text-anchor="middle" fill="#111" stroke="#111" stroke-width="0.35">+</text>
<text x="385.5" y="212.7" font-size="7" text-anchor="middle" fill="#111" stroke="#111" stroke-width="0.35">-</text>
<text x="406" y="212.7" font-size="7" text-anchor="middle" fill="#111" stroke="#111" stroke-width="0.35">+</text>
<text x="420.6" y="212.7" font-size="7" text-anchor="middle" fill="#111" stroke="#111" stroke-width="0.35">-</text>
<text x="436" y="212.7" font-size="7" text-anchor="middle" fill="#111" stroke="#111" stroke-width="0.35">+</text>
<text x="449.5" y="212.7" font-size="7" text-anchor="middle" fill="#111" stroke="#111" stroke-width="0.35">+</text>
<text x="468" y="212.7" font-size="7" text-anchor="middle" fill="#111" stroke="#111" stroke-width="0.35">+</text>
<text x="483.5" y="212.7" font-size="7" text-anchor="middle" fill="#111" stroke="#111" stroke-width="0.35">+</text>
<text x="385.5" y="227.29999999999998" font-size="7" text-anchor="middle" fill="#111" stroke="#111" stroke-width="0.35">-</text>
<text x="406" y="227.29999999999998" font-size="7" text-anchor="middle" fill="#111" stroke="#111" stroke-width="0.35">-</text>
<text x="420.6" y="227.29999999999998" font-size="7" text-anchor="middle" fill="#111" stroke="#111" stroke-width="0.35">-</text>
<text x="436" y="227.29999999999998" font-size="7" text-anchor="middle" fill="#111" stroke="#111" stroke-width="0.35">-</text>
<text x="449.5" y="227.29999999999998" font-size="7" text-anchor="middle" fill="#111" stroke="#111" stroke-width="0.35">-</text>
<text x="468" y="226.4" font-size="7.8" text-anchor="middle" fill="#111" stroke="#111" stroke-width="0.12">1</text>
<text x="483.5" y="227.29999999999998" font-size="7" text-anchor="middle" fill="#111" stroke="#111" stroke-width="0.35">-</text>
<text x="385.5" y="242.2" font-size="7" text-anchor="middle" fill="#111" stroke="#111" stroke-width="0.35">-</text>
<text x="406" y="242.2" font-size="7" text-anchor="middle" fill="#111" stroke="#111" stroke-width="0.35">-</text>
<text x="420.6" y="242.2" font-size="7" text-anchor="middle" fill="#111" stroke="#111" stroke-width="0.35">-</text>
<text x="436" y="242.2" font-size="7" text-anchor="middle" fill="#111" stroke="#111" stroke-width="0.35">-</text>
<text x="449.5" y="241.3" font-size="7.8" text-anchor="middle" fill="#111" stroke="#111" stroke-width="0.12">1</text>
<text x="468" y="242.2" font-size="7" text-anchor="middle" fill="#111" stroke="#111" stroke-width="0.35">-</text>
<text x="483.5" y="242.2" font-size="7" text-anchor="middle" fill="#111" stroke="#111" stroke-width="0.35">-</text>
<text x="385.5" y="257.4" font-size="7" text-anchor="middle" fill="#111" stroke="#111" stroke-width="0.35">-</text>
<text x="406" y="257.4" font-size="7" text-anchor="middle" fill="#111" stroke="#111" stroke-width="0.35">-</text>
<text x="420.6" y="257.4" font-size="7" text-anchor="middle" fill="#111" stroke="#111" stroke-width="0.35">-</text>
<text x="436" y="257.4" font-size="7" text-anchor="middle" fill="#111" stroke="#111" stroke-width="0.35">-</text>
<text x="449.5" y="257.4" font-size="7" text-anchor="middle" fill="#111" stroke="#111" stroke-width="0.35">-</text>
<text x="468" y="257.4" font-size="7" text-anchor="middle" fill="#111" stroke="#111" stroke-width="0.35">-</text>
<text x="483.5" y="256.5" font-size="7.8" text-anchor="middle" fill="#111" stroke="#111" stroke-width="0.12">1</text>
<rect x="377.5" y="264.6" width="119.5" height="19" fill="#fff" stroke="#111" stroke-width="0.8"/>
<rect x="377.5" y="289.5" width="119.5" height="19" fill="#fff" stroke="#111" stroke-width="0.8"/>
<path d="M415.5,277.84999999999997 Q419.75,277.4 424,277.84999999999997" stroke="#777" stroke-width="1.2" stroke-linecap="round" fill="none" filter="url(#bb)"/>
<path d="M431,278.15 Q435.25,277.7 439.5,278.15" stroke="#1c1c1c" stroke-width="2.8" stroke-linecap="round" fill="none" filter="url(#bb)"/>
<path d="M445.4,278.25 Q450.1,277.8 454.8,278.25" stroke="#666" stroke-width="1.6" stroke-linecap="round" fill="none" filter="url(#bb)"/>
<path d="M461.2,277.75 Q466.2,277.3 471.2,277.75" stroke="#222" stroke-width="2.3" stroke-linecap="round" fill="none" filter="url(#bb)"/>
<path d="M477.4,277.45 Q480.45,277.0 483.5,277.45" stroke="#444" stroke-width="1.5" stroke-linecap="round" fill="none" filter="url(#bb)"/>
<path d="M489.5,276.95 Q490.75,276.5 492,276.95" stroke="#222" stroke-width="2.6" stroke-linecap="round" fill="none" filter="url(#bb)"/>
<path d="M433,281.34999999999997 Q436.0,280.9 439,281.34999999999997" stroke="#aaa" stroke-width="1.8" stroke-linecap="round" fill="none" filter="url(#bb)"/>
<line x1="484" y1="277.2" x2="489" y2="277" stroke="#777" stroke-width="0.8"/>
<path d="M400.8,299.95 Q407.5,299.5 414.2,299.95" stroke="#2a2a2a" stroke-width="2.2" stroke-linecap="round" fill="none" filter="url(#bb)"/>
<path d="M430.7,300.75 Q444.85,300.3 459,300.75" stroke="#555" stroke-width="1.6" stroke-linecap="round" fill="none" filter="url(#bb)"/>
<path d="M460.5,300.04999999999995 Q467.25,299.59999999999997 474,300.04999999999995" stroke="#222" stroke-width="2.7" stroke-linecap="round" fill="none" filter="url(#bb)"/>
<path d="M474,299.45 Q483.4,299.0 492.8,299.45" stroke="#333" stroke-width="1.9" stroke-linecap="round" fill="none" filter="url(#bb)"/>
<text x="501.6" y="273.1" font-size="8.8" fill="#111" stroke="#111" stroke-width="0.12">p53</text>
<text x="501.6" y="298.6" font-size="8.8" fill="#111" stroke="#111" stroke-width="0.12">Tax</text>
<text x="395.2" y="322.2" font-size="8.8" text-anchor="middle" fill="#111" stroke="#111" stroke-width="0.12">1</text>
<text x="407.5" y="322.2" font-size="8.8" text-anchor="middle" fill="#111" stroke="#111" stroke-width="0.12">2</text>
<text x="423.2" y="322.2" font-size="8.8" text-anchor="middle" fill="#111" stroke="#111" stroke-width="0.12">3</text>
<text x="436" y="322.2" font-size="8.8" text-anchor="middle" fill="#111" stroke="#111" stroke-width="0.12">4</text>
<text x="451.7" y="322.2" font-size="8.8" text-anchor="middle" fill="#111" stroke="#111" stroke-width="0.12">5</text>
<text x="466" y="322.2" font-size="8.8" text-anchor="middle" fill="#111" stroke="#111" stroke-width="0.12">6</text>
<text x="484.2" y="322.2" font-size="8.8" text-anchor="middle" fill="#111" stroke="#111" stroke-width="0.12">7</text>
</g>
</svg>
</body></html>
